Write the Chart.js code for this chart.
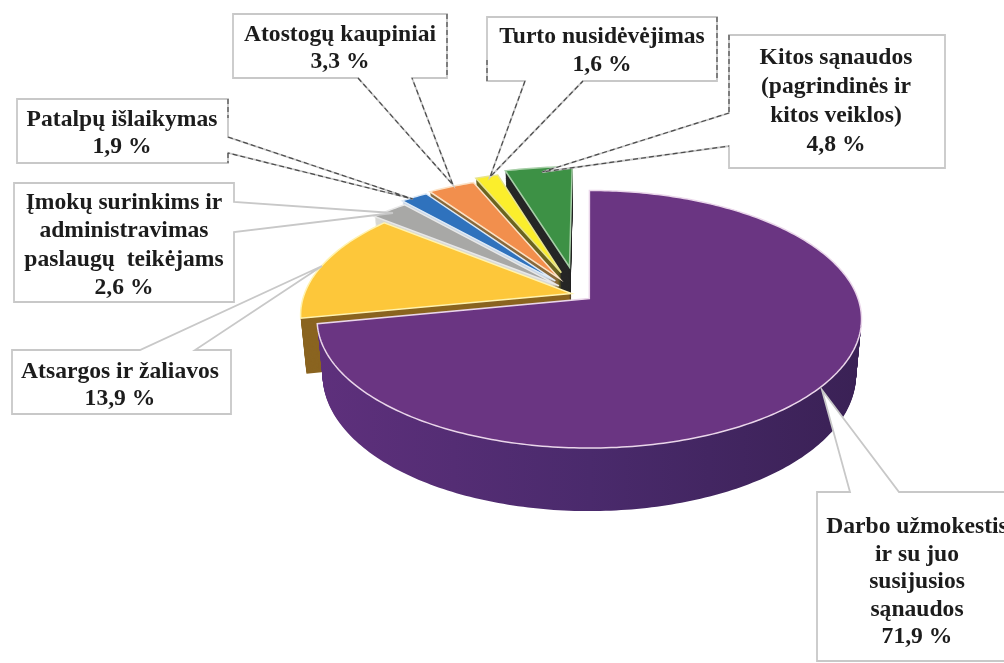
<!DOCTYPE html>
<html>
<head>
<meta charset="utf-8">
<title>Sanaudu struktura</title>
<script src="https://cdn.jsdelivr.net/npm/chart.js@4"></script>
<style>
  html, body { margin: 0; background: #fff; overflow: hidden; }
  canvas { display: block; }
</style>
</head>
<body>
<canvas id="pie-chart" width="1004" height="663"></canvas>
<script>
// Slices, clockwise from twelve o'clock
const labelLines = [
  ["Darbo užmokestis", "ir su juo", "susijusios", "sąnaudos"],
  ["Atsargos ir žaliavos"],
  ["Įmokų surinkims ir", "administravimas", "paslaugų  teikėjams"],
  ["Patalpų išlaikymas"],
  ["Atostogų kaupiniai"],
  ["Turto nusidėvėjimas"],
  ["Kitos sąnaudos", "(pagrindinės ir", "kitos veiklos)"]
];
const seriesValues = [71.9, 13.9, 2.6, 1.9, 3.3, 1.6, 4.8];

// Slice styling
const topColors = ["#6a3582", "#fdc73a", "#a8a8a6", "#2f72bd", "#f28f4d", "#fbee2c", "#3d9145"];
const rimColors = ["#ead6ea", "#fff3b0", "#e8e8e8", "#dfeaf6", "#fbe3c8", "#e8e48c", "#a8cfa8"];
const wallColors = ["#4a2a6c", "#8a6420", "#d8d8d4", "#c8d6e6", "#8a6a3c", "#6a6420", "#262626"];
const explode = [11, 5, 20, 28, 30, 38, 46];

// Callout boxes: box rectangle, wedge base and tip, text centre and first line,
// plus the box edges that came out darker
const callouts = [
  { box: [817, 492, 1010, 661], base: [[850, 492], [899, 492]], tip: [822, 390], cx: 917, y: 527, lh: 27.6, dark: false, edges: [] },
  { box: [12, 350, 231, 414], base: [[140, 350], [195, 350]], tip: [322, 266], cx: 120, y: 372, lh: 27, dark: false, edges: [] },
  { box: [14, 183, 234, 302], base: [[234, 202], [234, 232]], tip: [393, 213], cx: 124, y: 203, lh: 28.4, dark: false, edges: [] },
  { box: [17, 99, 228, 163], base: [[228, 137], [228, 153]], tip: [413, 199], cx: 122, y: 120, lh: 27, dark: true, edges: [[228, 99, 228, 118], [228, 153, 228, 163]] },
  { box: [233, 14, 447, 78], base: [[358, 78], [412, 78]], tip: [453, 185], cx: 340, y: 35, lh: 27, dark: true, edges: [[447, 14, 447, 78]] },
  { box: [487, 17, 717, 81], base: [[525, 81], [583, 81]], tip: [490, 177], cx: 602, y: 37, lh: 28, dark: true, edges: [[717, 17, 717, 81], [487, 60, 487, 81]] },
  { box: [729, 35, 945, 168], base: [[729, 113], [729, 146]], tip: [542, 172], cx: 836, y: 58, lh: 29, dark: true, edges: [[729, 35, 729, 113]] }
];

// Tilted disc: plane coordinates in radii, looked at in perspective
const view = { cx: 590, cy: 298, width: 268.5, height: 125.3, persp: 0.16, shiftX: -0.045, shiftY: 0.03 };

function project(px, py, drop) {
  const X = px + view.shiftX;
  const Y = py + view.shiftY;
  const d = 1 + view.persp * Y;
  const wall = (54 - 9 * Y) * drop;
  return [
    view.cx + (view.width * X / d) * (1 - 0.02 * drop),
    view.cy - view.height * Y / d + wall
  ];
}

// Walk the outline of an arc element, using the angles and offset Chart.js gave it
function tracePath(ctx, arc, drop) {
  const { startAngle, endAngle, outerRadius } = arc.getProps(["startAngle", "endAngle", "outerRadius"], true);
  const mid = (startAngle + endAngle) / 2;
  const ox = Math.cos(mid) * arc.options.offset / outerRadius;
  const oy = -Math.sin(mid) * arc.options.offset / outerRadius;
  const steps = Math.max(4, Math.ceil((endAngle - startAngle) * 60));
  ctx.beginPath();
  ctx.moveTo(...project(ox, oy, drop));
  for (let i = 0; i <= steps; i++) {
    const a = startAngle + (endAngle - startAngle) * i / steps;
    ctx.lineTo(...project(ox + Math.cos(a), oy - Math.sin(a), drop));
  }
  ctx.closePath();
}

const tiltedPie = {
  id: "tiltedPie",
  beforeDatasetsDraw(chart) {
    const ctx = chart.ctx;
    const arcs = chart.getDatasetMeta(0).data;
    // back slices first so the big slice covers the rest
    for (let i = arcs.length - 1; i >= 0; i--) {
      let wallFill = wallColors[i];
      if (i === 0) {
        wallFill = ctx.createLinearGradient(318, 0, 862, 0);
        wallFill.addColorStop(0, "#5e307c");
        wallFill.addColorStop(0.5, "#4a2a6c");
        wallFill.addColorStop(1, "#3a2155");
      }
      ctx.fillStyle = wallFill;
      for (let s = 60; s >= 1; s--) {
        tracePath(ctx, arcs[i], s / 60);
        ctx.fill();
      }
      tracePath(ctx, arcs[i], 0);
      ctx.fillStyle = arcs[i].options.backgroundColor;
      ctx.fill();
      ctx.strokeStyle = arcs[i].options.borderColor;
      ctx.lineWidth = arcs[i].options.borderWidth;
      ctx.stroke();
    }
    return false;
  },
  afterDraw(chart) {
    const ctx = chart.ctx;
    callouts.forEach((c, i) => {
      const [x0, y0, x1, y1] = c.box;
      const [b0, b1] = c.base;
      ctx.beginPath();
      ctx.moveTo(x0, y0);
      if (y0 === b0[1]) {
        ctx.lineTo(b0[0], y0); ctx.lineTo(...c.tip); ctx.lineTo(b1[0], y0);
      }
      ctx.lineTo(x1, y0);
      if (x1 === b0[0]) {
        ctx.lineTo(x1, b0[1]); ctx.lineTo(...c.tip); ctx.lineTo(x1, b1[1]);
      }
      ctx.lineTo(x1, y1);
      if (y1 === b0[1]) {
        ctx.lineTo(b1[0], y1); ctx.lineTo(...c.tip); ctx.lineTo(b0[0], y1);
      }
      ctx.lineTo(x0, y1);
      if (x0 === b0[0]) {
        ctx.lineTo(x0, b1[1]); ctx.lineTo(...c.tip); ctx.lineTo(x0, b0[1]);
      }
      ctx.closePath();
      ctx.fillStyle = "#fff";
      ctx.fill();
      ctx.strokeStyle = "#c8c8c8";
      ctx.lineWidth = 1.8;
      ctx.stroke();

      // darker broken lines on the upper callouts
      ctx.strokeStyle = "#4a4a4a";
      ctx.lineWidth = 1.2;
      ctx.setLineDash([5, 3]);
      if (c.dark) {
        ctx.beginPath();
        ctx.moveTo(...b0); ctx.lineTo(...c.tip); ctx.lineTo(...b1);
        ctx.stroke();
      }
      c.edges.forEach(e => {
        ctx.beginPath();
        ctx.moveTo(e[0], e[1]);
        ctx.lineTo(e[2], e[3]);
        ctx.stroke();
      });
      ctx.setLineDash([]);

      const lines = labelLines[i].concat(seriesValues[i].toFixed(1).replace(".", ",") + " %");
      ctx.fillStyle = "#1c1c1c";
      ctx.font = "bold 23.6px 'Liberation Serif'";
      ctx.textAlign = "center";
      ctx.textBaseline = "middle";
      lines.forEach((line, n) => ctx.fillText(line, c.cx, c.y + n * c.lh));
    });
  }
};

new Chart(document.getElementById("pie-chart"), {
  type: "pie",
  data: {
    labels: labelLines.map(l => l.join(" ")),
    datasets: [{
      data: seriesValues,
      backgroundColor: topColors,
      borderColor: rimColors,
      borderWidth: 1.5,
      offset: explode
    }]
  },
  options: {
    responsive: false,
    animation: false,
    radius: 200,
    events: [],
    plugins: { legend: { display: false }, tooltip: { enabled: false } }
  },
  plugins: [tiltedPie]
});
</script>
</body>
</html>
